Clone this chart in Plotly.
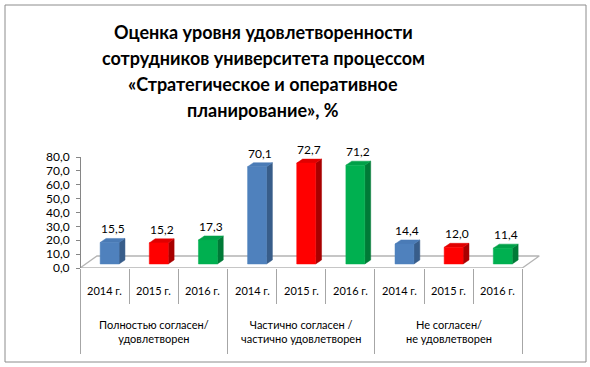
import plotly.graph_objects as go

groups = ["Полностью согласен/<br>удовлетворен",
          "Частично согласен /<br>частично удовлетворен",
          "Не согласен/<br>не удовлетворен"]
years = ["2014 г.", "2015 г.", "2016 г."]
values = [15.5, 15.2, 17.3, 70.1, 72.7, 71.2, 14.4, 12.0, 11.4]
value_labels = ["15,5", "15,2", "17,3", "70,1", "72,7", "71,2", "14,4", "12,0", "11,4"]
y_ticks = [0, 10, 20, 30, 40, 50, 60, 70, 80]
y_ticktext = ["0,0", "10,0", "20,0", "30,0", "40,0", "50,0", "60,0", "70,0", "80,0"]
title_lines = ["Оценка уровня удовлетворенности",
               "сотрудников университета процессом",
               "«Стратегическое и оперативное",
               "планирование», %"]

front_colors = ["#4F81BD", "#FF0000", "#00B050"]
side_colors = ["#385D8A", "#A80000", "#007A37"]
top_colors = ["#4A7BB6", "#E00000", "#00A048"]

FONT = "Lato, 'Open Sans', sans-serif"
n = len(values)
fx0, fw = 0.41, 0.385
ddx, ddy = 0.12, 2.9
base = 2.9
floor_dx, floor_dy = 0.345, 8.65

fig = go.Figure()

fig.add_trace(go.Scatter(
    x=[0, n, n + floor_dx, floor_dx, 0],
    y=[0, 0, floor_dy, floor_dy, 0],
    mode="lines", fill="toself", fillcolor="white",
    line=dict(color="#B4B4B4", width=1.3), hoverinfo="skip", showlegend=False))

for i, v in enumerate(values):
    c = i % 3
    x0 = i + fx0
    x1 = x0 + fw
    y0 = base
    y1 = base + v
    fig.add_trace(go.Scatter(
        x=[x1, x1 + ddx, x1 + ddx, x1, x1],
        y=[y0, y0 + ddy, y1 + ddy, y1, y0],
        mode="lines", fill="toself", fillcolor=side_colors[c],
        line=dict(color=side_colors[c], width=0.5), hoverinfo="skip", showlegend=False))
    fig.add_trace(go.Scatter(
        x=[x0, x1, x1 + ddx, x0 + ddx, x0],
        y=[y1, y1, y1 + ddy, y1 + ddy, y1],
        mode="lines", fill="toself", fillcolor=top_colors[c],
        line=dict(color=top_colors[c], width=0.5), hoverinfo="skip", showlegend=False))
    fig.add_trace(go.Scatter(
        x=[x0, x1, x1, x0, x0],
        y=[y0, y0, y1, y1, y0],
        mode="lines", fill="toself", fillcolor=front_colors[c],
        line=dict(color=front_colors[c], width=0.5), hoverinfo="skip", showlegend=False))
    fig.add_annotation(x=x0 + fw / 2 + ddx / 2, y=y1 + ddy, text=value_labels[i],
                       showarrow=False, yanchor="bottom", yshift=0,
                       font=dict(family=FONT, size=12, color="black"))

fig.add_trace(go.Scatter(x=[0], y=[0], xaxis="x2", mode="markers",
                         marker=dict(opacity=0), hoverinfo="skip", showlegend=False))

for i in range(n):
    fig.add_annotation(x=i + 0.5, y=0, yref="y", text=years[i % 3], showarrow=False,
                       yanchor="middle", yshift=-22,
                       font=dict(family=FONT, size=11, color="black"))
for g in range(3):
    fig.add_annotation(x=g * 3 + 1.5, y=0, yref="y", text=groups[g], showarrow=False,
                       yanchor="middle", yshift=-63,
                       font=dict(family=FONT, size=11, color="black"))

title_centers = [32, 58, 84, 110]
for line, cy in zip(title_lines, title_centers):
    fig.add_annotation(xref="paper", yref="paper", x=(263 - 80) / 460, y=1,
                       yanchor="middle", yshift=157 - cy,
                       text="<b>" + line + "</b>", showarrow=False,
                       font=dict(family=FONT, size=18, color="black"))

fig.add_shape(type="rect", xref="paper", yref="paper",
              x0=-75 / 460, x1=506 / 460, y0=-94 / 111, y1=1 + 152 / 111,
              line=dict(color="#8C8C8C", width=1))

fig.update_layout(
    width=590, height=367,
    margin=dict(l=80, r=50, t=157, b=99),
    paper_bgcolor="white", plot_bgcolor="rgba(0,0,0,0)",
    showlegend=False,
    xaxis=dict(range=[0, 9.36], tickvals=list(range(n + 1)), ticks="outside", ticklen=35,
               tickcolor="#A6A6A6", tickwidth=1, showticklabels=False, showgrid=False,
               zeroline=False, showline=False, fixedrange=True),
    xaxis2=dict(range=[0, 9.36], overlaying="x", anchor="y", side="bottom",
                tickvals=[0, 3, 6, 9], ticks="outside", ticklen=85,
                tickcolor="#A6A6A6", tickwidth=1, showticklabels=False, showgrid=False,
                zeroline=False, showline=False),
    yaxis=dict(range=[0, 80], anchor="free", position=0, side="left",
               tickvals=y_ticks, ticktext=y_ticktext, ticks="outside",
               ticklen=4, tickcolor="#868686", showline=True, linecolor="#868686",
               showgrid=False, zeroline=False, ticklabelstandoff=4,
               tickfont=dict(family=FONT, size=12, color="black")),
)

fig.write_html("out.html")
